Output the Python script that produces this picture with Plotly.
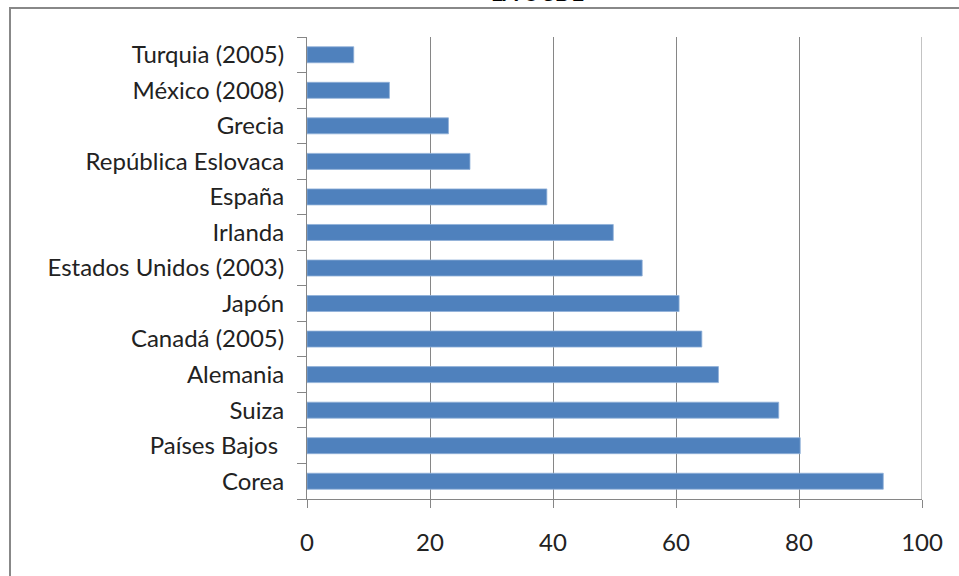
import plotly.graph_objects as go

countries = ["Corea", "Países Bajos\u00a0", "Suiza", "Alemania", "Canadá (2005)", "Japón",
             "Estados Unidos (2003)", "Irlanda", "España", "República Eslovaca",
             "Grecia", "México (2008)", "Turquia (2005)"]
values = [93.7, 80.2, 76.7, 66.9, 64.2, 60.5, 54.5, 49.8, 39.0, 26.5, 23.0, 13.4, 7.6]
x_ticks = [0, 20, 40, 60, 80, 100]
title_text = "LA OCDE"

W, H = 959, 576
L, R, T, B = 307, 959 - 922, 37, 576 - 499
pw, ph = W - L - R, H - T - B

fig = go.Figure(go.Bar(
    y=countries, x=values, orientation="h",
    marker=dict(color="#4F81BD", line=dict(color="#8FB0D8", width=0.8)),
    width=0.45,
))

font = dict(family="Lato, Open Sans, sans-serif", size=24, color="#222222")

fig.update_layout(
    width=W, height=H,
    margin=dict(l=L, r=R, t=T, b=B),
    plot_bgcolor="white", paper_bgcolor="white",
    showlegend=False,
    font=font,
    xaxis=dict(range=[0, 100], tickvals=x_ticks, showgrid=True, gridcolor="#868686",
               gridwidth=1, zeroline=False, showline=True, linecolor="#868686",
               ticks="outside", ticklen=8, tickcolor="#868686",
               ticklabelstandoff=14, tickfont=font),
    yaxis=dict(categoryorder="array", categoryarray=countries, showgrid=False,
               showline=True, linecolor="#868686", ticks="outside", ticklen=9,
               tickcolor="#868686", tickson="boundaries",
               ticklabelstandoff=17, tickfont=font, range=[-0.5, 12.5]),
)

# gridline at the right edge (100)
fig.add_shape(type="line", xref="x", yref="paper", x0=100, x1=100, y0=0, y1=1,
              line=dict(color="#868686", width=1), layer="below")

# outer chart border
fig.add_shape(type="rect", xref="paper", yref="paper",
              x0=(10 - L) / pw, x1=1.2, y0=-0.4, y1=(H - B - 8) / ph,
              line=dict(color="#888888", width=2), fillcolor="rgba(0,0,0,0)")

fig.add_annotation(text=f"<b>{title_text}</b>", xref="paper", yref="paper",
                   x=(489 - L) / pw, y=(H - B + 8) / ph, yanchor="middle",
                   showarrow=False, font=dict(family="Lato, sans-serif", size=22, color="black"))

fig.write_html("out.html", config={"displayModeBar": False},
               post_script="document.body.style.margin='0';document.body.style.overflow='hidden';")
